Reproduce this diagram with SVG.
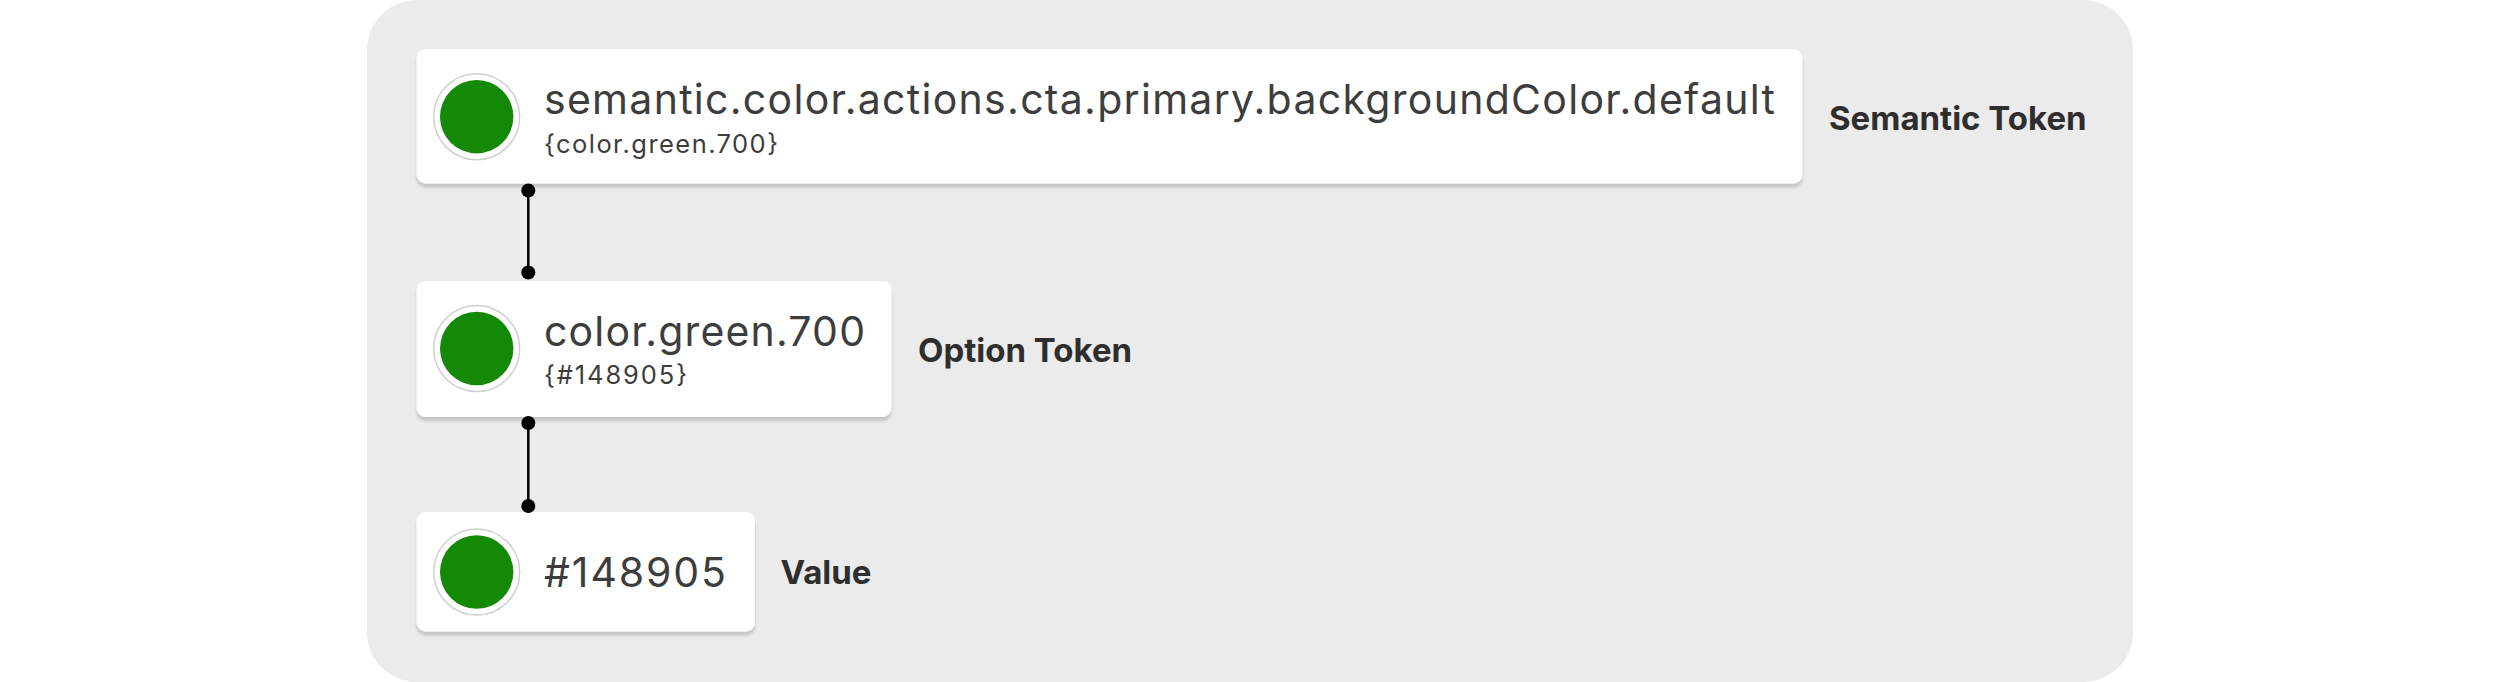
<svg xmlns="http://www.w3.org/2000/svg" width="2500" height="682" viewBox="0 0 2500 682">
<defs>
<filter id="sh" x="-5%" y="-20%" width="110%" height="140%">
<feDropShadow dx="0" dy="4" stdDeviation="1.5" flood-color="#000" flood-opacity="0.16"/>
</filter>
<style>
.card{fill:#ffffff;filter:url(#sh)}
.ring{fill:#ffffff;stroke:#cfcfcf;stroke-width:1.5}
.sw{fill:#148905}
.main{font-family:Inter,"Noto Sans",sans-serif;font-size:41px;fill:#3d3d3d}
.sub{font-family:Inter,"Noto Sans",sans-serif;font-size:25.5px;fill:#3d3d3d}
.lbl{font-family:Inter,"Noto Sans",sans-serif;font-size:33px;font-weight:700;fill:#2e2e2e}
.con{stroke:#000;stroke-width:2.5;fill:none}
.dot{fill:#000}
</style>
</defs>
<rect x="0" y="0" width="2500" height="682" fill="#ffffff"/>
<rect id="panel" x="367" y="0" width="1766" height="682" rx="50" fill="#ebebeb"/>
<g id="semantic-token">
<rect class="card" x="416.5" y="49" width="1386" height="134.5" rx="9"/>
<circle class="ring" cx="476.7" cy="116.7" r="43"/>
<circle class="sw" cx="476.7" cy="116.7" r="36.7"/>
<text class="main" x="544" y="113.5" textLength="1231" lengthAdjust="spacing">semantic.color.actions.cta.primary.backgroundColor.default</text>
<text class="sub" x="544" y="153.3" textLength="234" lengthAdjust="spacing">{color.green.700}</text>
<text class="lbl" x="1829" y="130">Semantic Token</text>
</g>
<g id="option-token">
<rect class="card" x="416.5" y="281" width="475" height="136" rx="9"/>
<circle class="ring" cx="476.7" cy="348.5" r="43"/>
<circle class="sw" cx="476.7" cy="348.5" r="36.7"/>
<text class="main" x="544" y="346" textLength="321" lengthAdjust="spacing">color.green.700</text>
<text class="sub" x="544" y="384" textLength="143" lengthAdjust="spacing">{#148905}</text>
<text class="lbl" x="918" y="361.5">Option Token</text>
</g>
<g id="value">
<rect class="card" x="416.5" y="512" width="338.5" height="119.5" rx="9"/>
<circle class="ring" cx="476.7" cy="572" r="43"/>
<circle class="sw" cx="476.7" cy="572" r="36.7"/>
<text class="main" x="544" y="587" textLength="182" lengthAdjust="spacing">#148905</text>
<text class="lbl" x="780.5" y="584">Value</text>
</g>
<g id="connectors">
<line class="con" x1="528.3" y1="190.5" x2="528.3" y2="272.5"/>
<circle class="dot" cx="528.3" cy="190.5" r="7"/>
<circle class="dot" cx="528.3" cy="272.5" r="7"/>
<line class="con" x1="528.3" y1="423" x2="528.3" y2="506"/>
<circle class="dot" cx="528.3" cy="423" r="7"/>
<circle class="dot" cx="528.3" cy="506" r="7"/>
</g>
</svg>
